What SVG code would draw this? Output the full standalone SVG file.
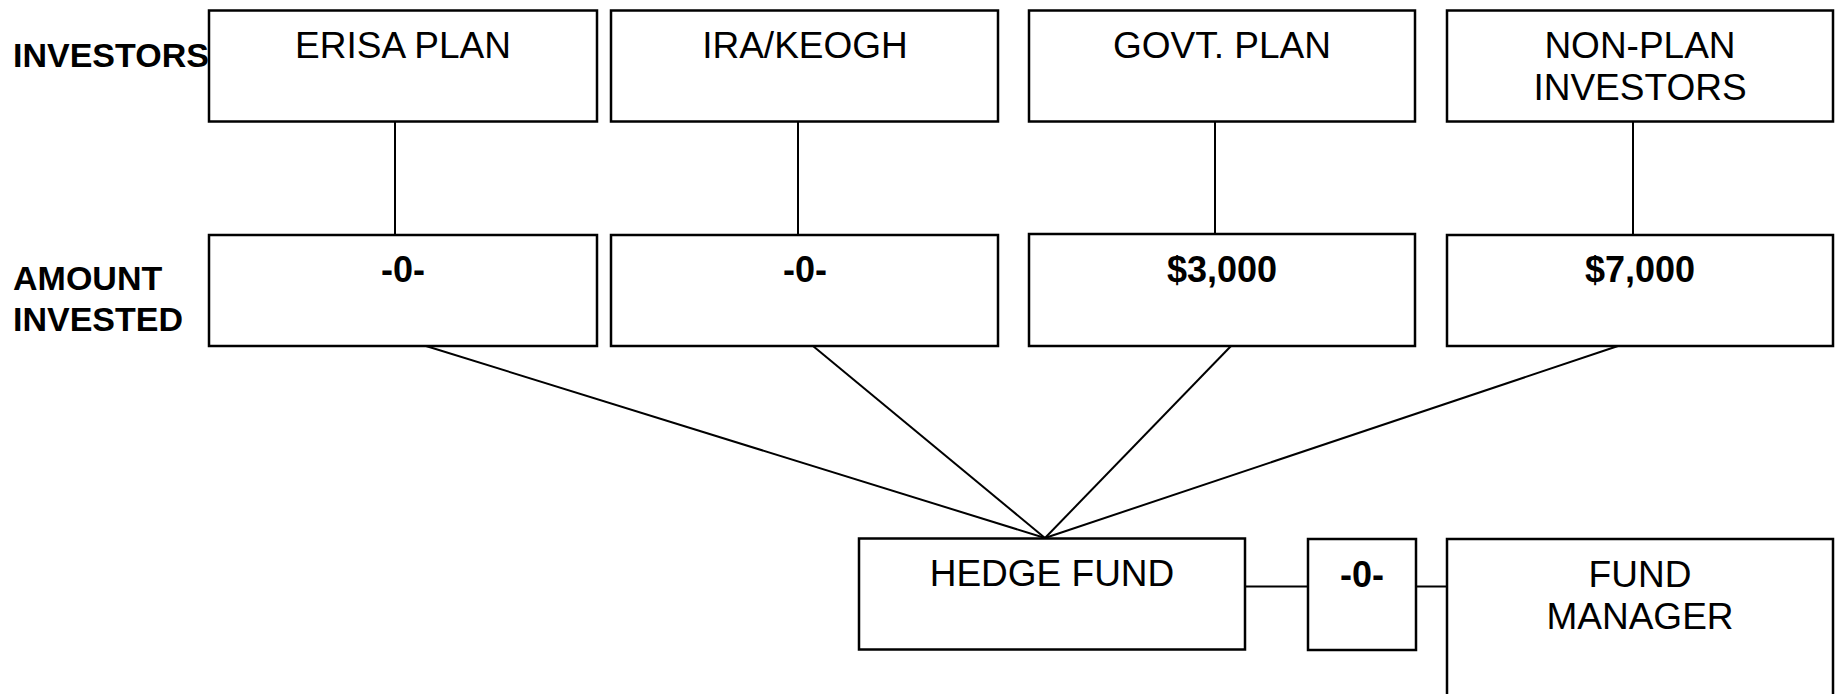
<svg xmlns="http://www.w3.org/2000/svg" width="1837" height="694" viewBox="0 0 1837 694">
<style>
.box{fill:#fff;stroke:#000;stroke-width:2.5}
.ln{stroke:#000;stroke-width:2;fill:none}
.t{font-family:"Liberation Sans",Arial,sans-serif;font-size:37px;fill:#000;text-anchor:middle}
.b{font-family:"Liberation Sans",Arial,sans-serif;font-size:36px;font-weight:bold;fill:#000;text-anchor:middle}
.lbl{font-family:"Liberation Sans",Arial,sans-serif;font-size:34px;font-weight:bold;fill:#000}
</style>
<rect width="1837" height="694" fill="#fff"/>
<g id="connectors">
<line class="ln" x1="395" y1="121" x2="395" y2="235"/>
<line class="ln" x1="798" y1="121" x2="798" y2="235"/>
<line class="ln" x1="1215" y1="121" x2="1215" y2="234"/>
<line class="ln" x1="1633" y1="121" x2="1633" y2="235"/>
<line class="ln" x1="426" y1="346" x2="1045" y2="538"/>
<line class="ln" x1="813" y1="346" x2="1045" y2="538"/>
<line class="ln" x1="1231" y1="346" x2="1045" y2="538"/>
<line class="ln" x1="1618" y1="346" x2="1045" y2="538"/>
<line class="ln" x1="1245" y1="586.5" x2="1308" y2="586.5"/>
<line class="ln" x1="1416" y1="586.5" x2="1447" y2="586.5"/>
</g>
<g id="label-investors"><text class="lbl" x="13" y="67">INVESTORS</text></g>
<g id="label-amount"><text class="lbl" x="13" y="290">AMOUNT</text><text class="lbl" x="13" y="331">INVESTED</text></g>
<g id="erisa"><rect class="box" x="209" y="10.5" width="388" height="111"/><text class="t" x="403" y="58">ERISA PLAN</text></g>
<g id="ira"><rect class="box" x="611" y="10.5" width="387" height="111"/><text class="t" x="805" y="58">IRA/KEOGH</text></g>
<g id="govt"><rect class="box" x="1029" y="10.5" width="386" height="111"/><text class="t" x="1222" y="58">GOVT. PLAN</text></g>
<g id="nonplan"><rect class="box" x="1447" y="10.5" width="386" height="111"/><text class="t" x="1640" y="58">NON-PLAN</text><text class="t" x="1640" y="100">INVESTORS</text></g>
<g id="amt-erisa"><rect class="box" x="209" y="235" width="388" height="111"/><text class="b" x="403" y="282">-0-</text></g>
<g id="amt-ira"><rect class="box" x="611" y="235" width="387" height="111"/><text class="b" x="805" y="282">-0-</text></g>
<g id="amt-govt"><rect class="box" x="1029" y="234" width="386" height="112"/><text class="b" x="1222" y="282">$3,000</text></g>
<g id="amt-nonplan"><rect class="box" x="1447" y="235" width="386" height="111"/><text class="b" x="1640" y="282">$7,000</text></g>
<g id="hedge"><rect class="box" x="859" y="538.5" width="386" height="111"/><text class="t" x="1052" y="586">HEDGE FUND</text></g>
<g id="fee"><rect class="box" x="1308" y="539" width="108" height="111"/><text class="b" x="1362" y="587">-0-</text></g>
<g id="manager"><rect class="box" x="1447" y="539" width="386" height="170"/><text class="t" x="1640" y="587">FUND</text><text class="t" x="1640" y="629">MANAGER</text></g>
</svg>
